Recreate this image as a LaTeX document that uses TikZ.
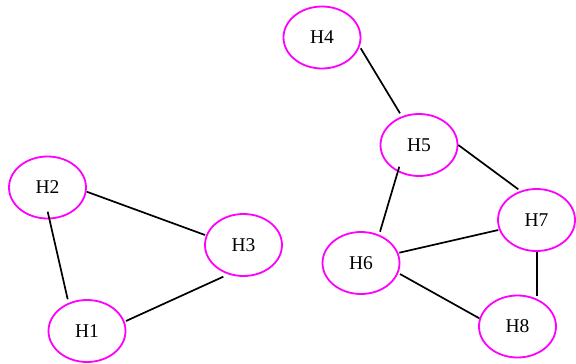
\documentclass[tikz,border=0pt]{standalone}
\usepackage{fontspec}
\setmainfont{Liberation Serif}
\usetikzlibrary{shapes.geometric,calc}
\definecolor{hostpink}{RGB}{255,0,255}
\begin{document}
\begin{tikzpicture}[x=1pt,y=-1pt,
  host/.style={ellipse,draw=hostpink,line width=1.8pt,fill=white,minimum width=77pt,minimum height=62pt,inner sep=0pt,font=\fontsize{19.5}{23}\selectfont},
  link/.style={draw=black,line width=1.7pt}]
\useasboundingbox (0,0) rectangle (576,364);
\node[host] (h1) at (87,331) {H1};
\node[host] (h2) at (47.5,187.5) {H2};
\node[host] (h3) at (243.5,245) {H3};
\node[host] (h4) at (322,37.5) {H4};
\node[host] (h5) at (419,145) {H5};
\node[host] (h6) at (361,263) {H6};
\node[host] (h7) at (536.5,220) {H7};
\node[host] (h8) at (517.5,326.5) {H8};
\draw[link] ($(h2.center)+(0.2,24.2)$) -- ($(h1.center)+(-19.3,-31.7)$);
\draw[link] ($(h2.center)+(39.2,4.2)$) -- ($(h3.center)+(-38.5,-10)$);
\draw[link] ($(h3.center)+(-20.2,31.7)$) -- ($(h1.center)+(39,-10)$);
\draw[link] ($(h4.center)+(38.7,10.8)$) -- ($(h5.center)+(-19,-31.7)$);
\draw[link] ($(h5.center)+(39.3,0)$) -- ($(h7.center)+(-18.2,-30.7)$);
\draw[link] ($(h5.center)+(-19.7,21.7)$) -- ($(h6.center)+(19,-31.3)$);
\draw[link] ($(h6.center)+(38.3,-10.3)$) -- ($(h7.center)+(-38.2,10)$);
\draw[link] ($(h6.center)+(39,11)$) -- ($(h8.center)+(-38.2,-8.2)$);
\draw[link] ($(h7.center)+(0.2,31.7)$) -- ($(h8.center)+(19.2,-30.5)$);
\end{tikzpicture}
\end{document}
